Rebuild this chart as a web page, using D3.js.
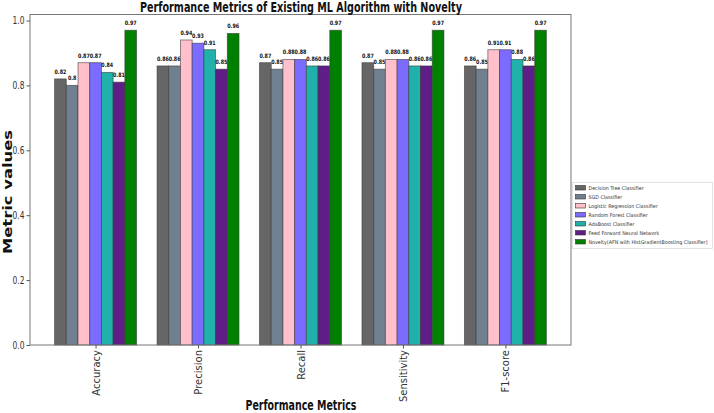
<!DOCTYPE html>
<html><head><meta charset="utf-8">
<script src="https://cdn.jsdelivr.net/npm/d3@7"></script>
<style>body{margin:0;background:#fff}svg{display:block}</style>
</head><body>
<svg id="c" width="714" height="413"></svg>
<script>
const categories = ["Accuracy","Precision","Recall","Sensitivity","F1-score"];
const seriesNames = ["Decision Tree Classifier","SGD Classifier","Logistic Regression Classifier","Random Forest Classifier","AdaBoost Classifier","Feed Forward Neural Network","Novelty(AFN with HistGradientBoosting Classifier)"];
const decisionTree = [0.82,0.86,0.87,0.87,0.86];
const sgd = [0.80,0.86,0.85,0.85,0.85];
const logistic = [0.87,0.94,0.88,0.88,0.91];
const randomForest = [0.87,0.93,0.88,0.88,0.91];
const adaBoost = [0.84,0.91,0.86,0.86,0.88];
const ffnn = [0.81,0.85,0.86,0.86,0.86];
const novelty = [0.97,0.96,0.97,0.97,0.97];
const yTicks = [0.0,0.2,0.4,0.6,0.8,1.0];
const colors = ["#666666","#708090","#ffc0cb","#7b6cff","#20b2aa","#5f1d87","#008000"];
const series = [decisionTree,sgd,logistic,randomForest,adaBoost,ffnn,novelty];

const svg = d3.select("#c");
const L=30, R=571, T=14.5, B=345;
const n = series.length, bw = 0.8/n;
const x = d3.scaleLinear().domain([-0.64, 4.64]).range([L,R]);
const y = d3.scaleLinear().domain([0, 1.0185]).range([B,T]);
const FONT = "DejaVu Sans";
function squash(sel, f){ sel.each(function(){ const w=this.getComputedTextLength(); d3.select(this).attr("textLength",w*f).attr("lengthAdjust","spacingAndGlyphs"); }); }

// bars
series.forEach((vals,si)=>{
  const g = svg.append("g");
  vals.forEach((v,ci)=>{
    const x0 = ci - 0.4 + si*bw;
    g.append("rect").attr("x",x(x0)).attr("y",y(v))
      .attr("width",x(x0+bw)-x(x0)).attr("height",B-y(v))
      .attr("fill",colors[si]).attr("stroke","#333").attr("stroke-opacity",0.6).attr("stroke-width",0.9);
    const t = g.append("text").attr("x",x(x0+bw/2)).attr("y",y(v)-5)
      .attr("text-anchor","middle").attr("font-family",FONT).attr("font-weight","bold")
      .attr("font-size",6).attr("fill","#111").text(String(v));
    squash(t,0.8);
  });
});

// frame
svg.append("rect").attr("x",L).attr("y",T).attr("width",R-L).attr("height",B-T)
  .attr("fill","none").attr("stroke","#777").attr("stroke-width",1);

// y axis
const ya = svg.append("g").attr("transform",`translate(${L},0)`)
  .call(d3.axisLeft(y).tickValues(yTicks).tickFormat(d3.format(".1f")).tickSize(3.5).tickPadding(2));
ya.select(".domain").remove();
ya.selectAll("line").attr("stroke","#555");
ya.selectAll("text").attr("font-family",FONT).attr("font-size",10).attr("fill","#333");
squash(ya.selectAll("text"),0.75);

// x axis
const xa = svg.append("g").attr("transform",`translate(0,${B})`)
  .call(d3.axisBottom(x).tickValues(d3.range(categories.length)).tickFormat(i=>categories[i]).tickSize(3.5));
xa.select(".domain").remove();
xa.selectAll("line").attr("stroke","#555");
xa.selectAll("text").attr("font-family",FONT).attr("font-size",10).attr("fill","#333")
  .attr("transform","rotate(-90)").attr("text-anchor","end").attr("dy","0.35em").attr("x",-5).attr("y",0);

// title & labels
svg.append("text").attr("x",301).attr("y",12).attr("text-anchor","middle")
  .attr("font-family",FONT).attr("font-weight","bold").attr("font-size",13.5)
  .attr("textLength",322).attr("lengthAdjust","spacingAndGlyphs").attr("fill","#111")
  .text("Performance Metrics of Existing ML Algorithm with Novelty");
svg.append("text").attr("x",301).attr("y",410).attr("text-anchor","middle")
  .attr("font-family",FONT).attr("font-weight","bold").attr("font-size",13.5)
  .attr("textLength",111).attr("lengthAdjust","spacingAndGlyphs").attr("fill","#111")
  .text("Performance Metrics");
svg.append("text").attr("transform","translate(12,192) rotate(-90)").attr("text-anchor","middle")
  .attr("font-family",FONT).attr("font-weight","bold").attr("font-size",13).attr("fill","#111")
  .attr("textLength",124).attr("lengthAdjust","spacingAndGlyphs")
  .text("Metric values");

// legend
const lg = svg.append("g");
lg.append("rect").attr("x",572.5).attr("y",182.5).attr("width",140).attr("height",66)
  .attr("fill","#fff").attr("stroke","#ddd").attr("stroke-width",0.8);
const lt = [];
seriesNames.forEach((s,i)=>{
  const yy = 188 + i*9;
  lg.append("rect").attr("x",575.5).attr("y",yy-2.5).attr("width",10).attr("height",4.5)
    .attr("fill",colors[i]).attr("stroke","#333").attr("stroke-width",0.6);
  lt.push(lg.append("text").attr("x",588.5).attr("y",yy+2).attr("font-family",FONT)
    .attr("font-size",5.2).attr("fill","#333").text(s));
});
const maxW = d3.max(lt, t=>t.node().getComputedTextLength());
const f = 119/maxW;
lt.forEach(t=>squash(t,f));
</script>
</body></html>
